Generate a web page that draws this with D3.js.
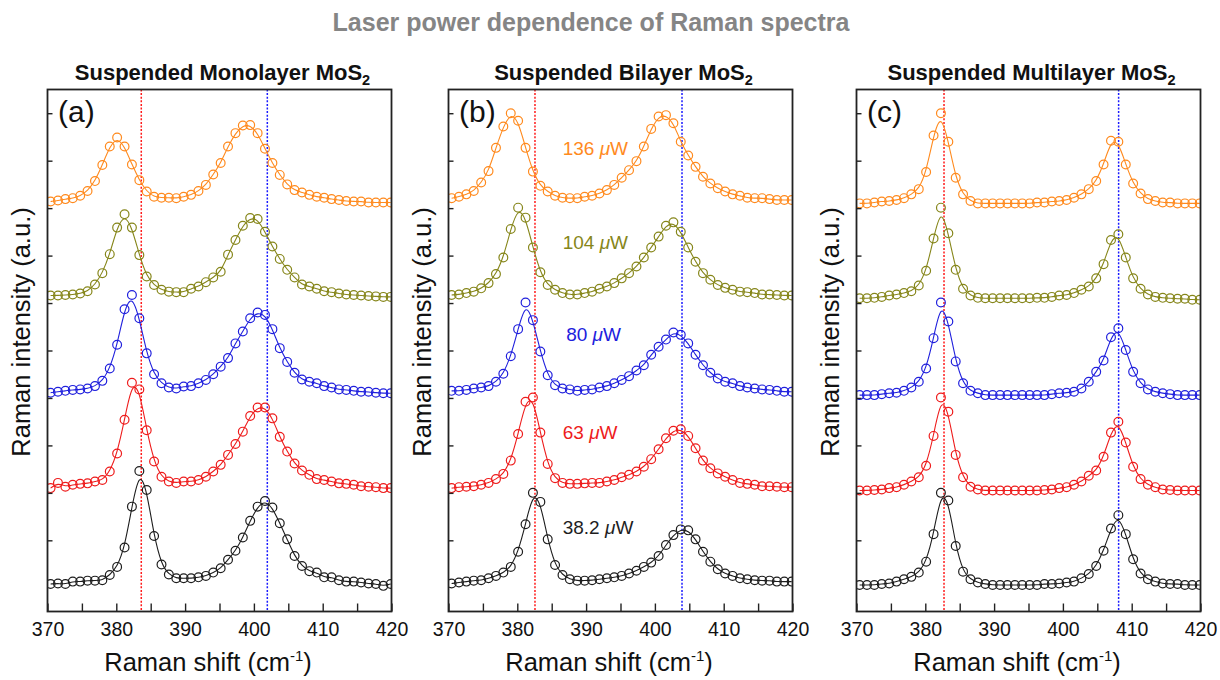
<!DOCTYPE html>
<html>
<head>
<meta charset="utf-8">
<script src="https://cdn.jsdelivr.net/npm/d3@7"></script>
<style>
  body { margin: 0; background: #fff; }
  text { font-family: "Liberation Sans", Arial, sans-serif; }
</style>
</head>
<body>
<svg id="chart" width="1220" height="680"></svg>
<script>
// Raman shift of each detector pixel (cm-1), same grid for all panels
var shifts = [370.45, 371.52, 372.60, 373.67, 374.75, 375.82, 376.90, 377.97, 379.05, 380.12,
              381.20, 382.27, 383.35, 384.42, 385.49, 386.57, 387.64, 388.72, 389.79, 390.87,
              391.94, 393.02, 394.09, 395.17, 396.24, 397.32, 398.39, 399.46, 400.54, 401.61,
              402.69, 403.76, 404.84, 405.91, 406.99, 408.06, 409.14, 410.21, 411.29, 412.36,
              413.43, 414.51, 415.58, 416.66, 417.73, 418.81, 419.88];

// laser powers, bottom to top
var powers = ["38.2", "63", "80", "104", "136"];
var powerColors = ["#1e1e1e", "#ee1c1c", "#2020dd", "#86861a", "#ff8a1e"];
var offsets = [0, 2, 4, 6, 8];   // vertical stacking of the spectra (a.u.)

// normalised intensities, one row per power (38.2, 63, 80, 104, 136 uW)
var monolayer = [
  [0.08,0.09,0.08,0.13,0.13,0.15,0.15,0.16,0.27,0.44,0.85,1.71,2.46,2.06,1.09,0.49,0.28,0.20,0.20,0.20,0.22,0.25,0.32,0.41,0.59,0.78,1.06,1.41,1.71,1.83,1.69,1.36,1.02,0.67,0.46,0.35,0.32,0.22,0.22,0.16,0.13,0.13,0.11,0.09,0.08,0.04,0.08],
  [0.10,0.21,0.13,0.17,0.19,0.20,0.24,0.27,0.45,0.83,1.54,2.32,2.18,1.32,0.66,0.34,0.24,0.21,0.24,0.24,0.27,0.34,0.45,0.59,0.80,1.03,1.29,1.62,1.80,1.80,1.57,1.18,0.87,0.62,0.47,0.38,0.29,0.27,0.24,0.20,0.19,0.17,0.14,0.13,0.12,0.10,0.10],
  [0.11,0.13,0.15,0.17,0.18,0.20,0.25,0.36,0.62,1.12,1.87,2.17,1.68,0.94,0.50,0.31,0.22,0.20,0.24,0.25,0.31,0.38,0.50,0.66,0.84,1.15,1.40,1.68,1.80,1.75,1.45,1.05,0.76,0.53,0.39,0.34,0.31,0.25,0.22,0.18,0.17,0.15,0.13,0.13,0.11,0.10,0.10],
  [0.16,0.16,0.17,0.18,0.20,0.25,0.39,0.63,1.03,1.59,1.87,1.59,1.01,0.56,0.38,0.28,0.24,0.23,0.23,0.30,0.35,0.44,0.54,0.66,1.02,1.33,1.63,1.79,1.77,1.50,1.19,0.93,0.70,0.54,0.39,0.35,0.30,0.25,0.23,0.20,0.18,0.17,0.16,0.15,0.14,0.13,0.13],
  [0.14,0.16,0.19,0.21,0.26,0.36,0.57,0.91,1.30,1.49,1.30,0.92,0.59,0.35,0.24,0.22,0.22,0.21,0.24,0.28,0.36,0.49,0.71,0.95,1.30,1.58,1.74,1.75,1.58,1.25,0.95,0.70,0.50,0.38,0.33,0.28,0.24,0.22,0.19,0.17,0.15,0.14,0.14,0.12,0.12,0.12,0.12]
];
var bilayer = [
  [0.09,0.11,0.13,0.15,0.16,0.20,0.25,0.32,0.44,0.76,1.34,2.00,1.81,1.02,0.48,0.27,0.18,0.15,0.15,0.16,0.18,0.20,0.22,0.25,0.30,0.36,0.44,0.53,0.67,0.90,1.11,1.23,1.21,1.02,0.76,0.55,0.39,0.30,0.25,0.20,0.18,0.16,0.15,0.15,0.13,0.13,0.13],
  [0.10,0.12,0.13,0.14,0.17,0.21,0.29,0.40,0.68,1.24,1.92,2.01,1.27,0.61,0.31,0.21,0.19,0.19,0.20,0.21,0.21,0.24,0.27,0.33,0.38,0.45,0.55,0.71,0.92,1.15,1.31,1.34,1.20,0.94,0.68,0.52,0.41,0.34,0.27,0.21,0.19,0.17,0.14,0.14,0.13,0.12,0.12],
  [0.15,0.15,0.17,0.20,0.22,0.25,0.34,0.51,0.88,1.45,2.01,1.64,0.98,0.48,0.27,0.20,0.18,0.15,0.17,0.18,0.22,0.25,0.31,0.38,0.46,0.58,0.69,0.91,1.08,1.23,1.38,1.33,1.15,0.91,0.69,0.53,0.41,0.34,0.31,0.25,0.22,0.20,0.18,0.17,0.15,0.13,0.13],
  [0.17,0.18,0.21,0.24,0.31,0.42,0.61,0.96,1.56,2.01,1.80,1.17,0.65,0.38,0.28,0.21,0.18,0.18,0.21,0.24,0.30,0.35,0.42,0.52,0.63,0.77,0.96,1.17,1.40,1.63,1.70,1.50,1.17,0.87,0.63,0.49,0.38,0.32,0.28,0.24,0.23,0.21,0.18,0.18,0.17,0.16,0.16],
  [0.21,0.24,0.29,0.36,0.54,0.78,1.27,1.72,2.00,1.84,1.27,0.77,0.47,0.35,0.26,0.22,0.21,0.21,0.24,0.26,0.31,0.38,0.49,0.64,0.80,0.99,1.30,1.67,1.93,1.96,1.79,1.40,1.11,0.87,0.66,0.52,0.42,0.35,0.29,0.26,0.22,0.21,0.21,0.19,0.17,0.17,0.17]
];
var multilayer = [
  [0.06,0.06,0.06,0.08,0.09,0.13,0.18,0.23,0.32,0.55,1.13,2.00,1.84,0.88,0.34,0.18,0.11,0.08,0.06,0.06,0.06,0.06,0.06,0.06,0.06,0.08,0.08,0.09,0.11,0.13,0.20,0.29,0.46,0.78,1.25,1.53,1.13,0.60,0.30,0.18,0.13,0.09,0.08,0.08,0.06,0.06,0.06],
  [0.05,0.05,0.06,0.07,0.10,0.12,0.17,0.24,0.33,0.57,1.20,2.01,1.71,0.80,0.33,0.13,0.07,0.05,0.05,0.05,0.05,0.05,0.05,0.05,0.05,0.06,0.07,0.10,0.12,0.17,0.24,0.36,0.47,0.76,1.27,1.50,1.06,0.55,0.29,0.17,0.12,0.07,0.06,0.05,0.05,0.05,0.05],
  [0.06,0.06,0.06,0.08,0.10,0.11,0.15,0.22,0.34,0.62,1.26,2.01,1.61,0.77,0.31,0.15,0.10,0.06,0.06,0.06,0.06,0.06,0.06,0.06,0.06,0.06,0.08,0.10,0.11,0.13,0.20,0.34,0.55,0.79,1.28,1.47,1.01,0.55,0.31,0.18,0.13,0.10,0.08,0.06,0.06,0.06,0.06],
  [0.10,0.10,0.11,0.13,0.16,0.18,0.21,0.25,0.37,0.68,1.36,2.01,1.47,0.70,0.30,0.16,0.11,0.10,0.10,0.10,0.10,0.10,0.10,0.10,0.11,0.11,0.13,0.16,0.17,0.21,0.28,0.35,0.52,0.82,1.33,1.45,0.96,0.52,0.30,0.18,0.13,0.11,0.10,0.09,0.09,0.07,0.07],
  [0.10,0.10,0.12,0.14,0.15,0.17,0.21,0.29,0.40,0.76,1.53,2.00,1.40,0.64,0.29,0.15,0.10,0.10,0.10,0.10,0.10,0.10,0.10,0.10,0.12,0.12,0.14,0.15,0.17,0.22,0.29,0.40,0.57,0.92,1.42,1.40,0.92,0.52,0.31,0.19,0.15,0.12,0.12,0.10,0.10,0.10,0.10]
];

var panelTags = ["(a)", "(b)", "(c)"];
var panelTitles = ["Suspended Monolayer MoS", "Suspended Bilayer MoS", "Suspended Multilayer MoS"];
var e2gPeaks = [383.63, 382.57, 382.72];   // red dotted reference lines
var a1gPeaks = [401.95, 403.94, 408.10];   // blue dotted reference lines
var xTicks = [370, 375, 380, 385, 390, 395, 400, 405, 410, 415, 420];
var yTicks = [1, 2, 3, 4, 5, 6, 7, 8, 9, 10];

var svg = d3.select("#chart"),
    panelLeft = [47.5, 448.5, 856.5],
    plotW = 344, plotTop = 89.5, plotBottom = 611.5;

var y = d3.scaleLinear().domain([-0.5, 10.5]).range([plotBottom, plotTop]);

svg.append("text")
    .attr("x", 591).attr("y", 31)
    .attr("text-anchor", "middle")
    .attr("font-size", 25).attr("font-weight", "bold")
    .attr("fill", "#858585")
    .text("Laser power dependence of Raman spectra");

[monolayer, bilayer, multilayer].forEach(function(spectra, k) {
  var left = panelLeft[k];
  var x = d3.scaleLinear().domain([370, 420]).range([left, left + plotW]);
  var g = svg.append("g");

  svg.append("clipPath").attr("id", "clip" + k)
    .append("rect").attr("x", left).attr("y", plotTop)
    .attr("width", plotW).attr("height", plotBottom - plotTop);

  // reference peak positions
  [[e2gPeaks[k], "#ff1a1a"], [a1gPeaks[k], "#1a1aff"]].forEach(function(p) {
    g.append("line")
        .attr("x1", x(p[0])).attr("x2", x(p[0]))
        .attr("y1", plotTop).attr("y2", plotBottom)
        .attr("stroke", p[1]).attr("stroke-width", 1.5)
        .attr("stroke-dasharray", "2,1.6");
  });

  var line = d3.line()
      .x(function(d){return x(d[0]);})
      .y(function(d){return y(d[1]);})
      .curve(d3.curveBasis);

  var plot = g.append("g").attr("clip-path", "url(#clip" + k + ")");
  spectra.forEach(function(vals, s) {
    var pts = vals.map(function(v, i){return [shifts[i], v + offsets[s]];});
    plot.append("path").datum(pts)
        .attr("d", line)
        .attr("fill", "none")
        .attr("stroke", powerColors[s]).attr("stroke-width", 1.1);
    plot.selectAll(null).data(pts).enter().append("circle")
        .attr("cx", function(d){return x(d[0]);})
        .attr("cy", function(d){return y(d[1]);})
        .attr("r", 4.4)
        .attr("fill", "none")
        .attr("stroke", powerColors[s]).attr("stroke-width", 1.2);
  });

  // axes, ticks point inwards
  var xa = g.append("g")
      .attr("transform", "translate(0," + plotBottom + ")")
      .call(d3.axisBottom(x).tickValues(xTicks).tickSize(-8).tickPadding(11)
        .tickFormat(function(d){return d % 10 === 0 ? d : "";}));
  var ya = g.append("g")
      .attr("transform", "translate(" + left + ",0)")
      .call(d3.axisLeft(y).tickValues(yTicks).tickSize(-5).tickFormat(""));
  [xa, ya].forEach(function(a) {
    a.select(".domain").remove();
    a.selectAll(".tick line").attr("stroke", "#222").attr("stroke-width", 1.4);
    a.selectAll(".tick text").attr("font-size", 19.5).attr("fill", "#111")
        .attr("font-family", "Liberation Sans, Arial, sans-serif");
  });

  g.append("rect")
      .attr("x", left).attr("y", plotTop)
      .attr("width", plotW).attr("height", plotBottom - plotTop)
      .attr("fill", "none").attr("stroke", "#222").attr("stroke-width", 1.8);

  g.append("text")
      .attr("x", left + 10.5).attr("y", 122)
      .attr("font-size", 30).attr("fill", "#111")
      .text(panelTags[k]);

  var title = g.append("text")
      .attr("x", left + plotW / 2 + 3).attr("y", 80)
      .attr("text-anchor", "middle")
      .attr("font-size", 22).attr("font-weight", "bold").attr("fill", "#111");
  title.append("tspan").text(panelTitles[k]);
  title.append("tspan").attr("font-size", 14.5).attr("dy", 5).text("2");

  var xt = g.append("text")
      .attr("x", left + 160.5).attr("y", 671)
      .attr("text-anchor", "middle")
      .attr("font-size", 25.5).attr("fill", "#111");
  xt.append("tspan").text("Raman shift (cm");
  xt.append("tspan").attr("font-size", 15).attr("dy", -10).text("-1");
  xt.append("tspan").attr("dy", 10).text(")");

  g.append("text")
      .attr("transform", "translate(" + (left - 17.5) + ",332) rotate(-90)")
      .attr("text-anchor", "middle")
      .attr("font-size", 25.5).attr("fill", "#111")
      .text("Raman intensity (a.u.)");

  // power labels only in the bilayer panel
  if (k === 1) {
    powers.forEach(function(p, s) {
      var t = g.append("text")
          .attr("x", x(s === 2 ? 387.1 : 386.6))
          .attr("y", y(offsets[s] + (s === 2 ? 1.19 : 1.13)))
          .attr("font-size", 19).attr("fill", powerColors[s]);
      t.append("tspan").text(p + " ");
      t.append("tspan").attr("font-style", "italic").text("\u03bc");
      t.append("tspan").text("W");
    });
  }
});
</script>
</body>
</html>
